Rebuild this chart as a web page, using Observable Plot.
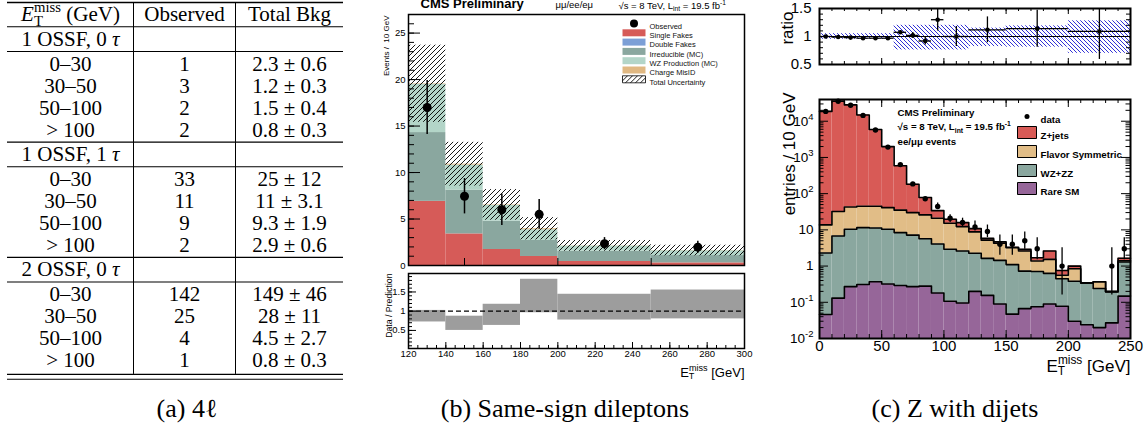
<!DOCTYPE html>
<html>
<head>
<meta charset="utf-8">
<script src="https://cdn.jsdelivr.net/npm/d3@7"></script>
<script src="https://cdn.jsdelivr.net/npm/@observablehq/plot@0.6"></script>
<style>
html,body{margin:0;padding:0;background:#fff;}
#root{position:relative;width:1148px;height:437px;overflow:hidden;background:#fff;color:#000;}
.panel{position:absolute;}
.panel svg{overflow:visible;display:block;}
.cap{position:absolute;font-family:"Liberation Serif","Times New Roman",serif;font-size:26px;line-height:1;white-space:nowrap;transform:translateX(-50%);}
</style>
</head>
<body>
<div id="root">
<svg width="0" height="0" style="position:absolute;left:0;top:0">
 <defs>
  <pattern id="hatchB" patternUnits="userSpaceOnUse" width="5" height="5">
   <path d="M-1,1 l2,-2 M0,5 l5,-5 M4,6 l2,-2" stroke="#000" stroke-width="0.9"/>
  </pattern>
  <pattern id="hatchC" patternUnits="userSpaceOnUse" width="4" height="4">
   <path d="M-1,3 l2,2 M0,0 l4,4 M3,-1 l2,2" stroke="#1a1ad0" stroke-width="0.9"/>
  </pattern>
 </defs>
</svg>
<div class="panel" id="pa" style="left:0;top:0"></div>
<div class="panel" id="pb" style="left:370px;top:0"></div>
<div class="panel" id="pbr" style="left:370px;top:268px"></div>
<div class="panel" id="pcr" style="left:760px;top:0"></div>
<div class="panel" id="pc" style="left:760px;top:80px"></div>
<div class="cap" style="left:187px;top:396px">(a) 4ℓ</div>
<div class="cap" style="left:565px;top:396px">(b) Same-sign dileptons</div>
<div class="cap" style="left:955px;top:396px">(c) Z with dijets</div>
</div>
<script>
// ================= DATA =================
// (a) 4-lepton table
const tableHeader = ["*{E}_{T}^{miss} (GeV)", "Observed", "Total Bkg"];
const tableGroups = ["1 OSSF, 0 *{τ}", "1 OSSF, 1 *{τ}", "2 OSSF, 0 *{τ}"];
const metRanges = ["0–30", "30–50", "50–100", "> 100"];
const observed4l = [[1, 3, 2, 2], [33, 11, 9, 2], [142, 25, 4, 1]];
const bkg4l = [[2.3, 1.2, 1.5, 0.8], [25, 11, 9.3, 2.9], [149, 28, 4.5, 0.8]];
const bkg4lErr = [[0.6, 0.3, 0.4, 0.3], [12, 3.1, 1.9, 0.6], [46, 11, 2.7, 0.3]];

// (b) same-sign dileptons (events / 10 GeV)
const ssEdges = [120, 140, 160, 180, 200, 250, 300];
const ssSingleFakes = [6.9, 3.4, 1.72, 0.97, 0.43, 0.28];
const ssDoubleFakes = [0, 0, 0, 0, 0, 0];
const ssIrreducible = [7.4, 4.7, 3.05, 1.73, 1.11, 0.79];
const ssWZ = [5.2, 2.7, 1.7, 1.15, 0.55, 0.52];
const ssChargeMisID = [0.05, 0.1, 0.05, 0.1, 0.02, 0.02];
const ssTotalUnc = [4.15, 2.35, 1.65, 1.2, 0.58, 0.57];
const ssObserved = [17.0, 7.45, 6.0, 5.5, 2.35, 1.97];
const ssObsErr = [2.9, 1.9, 1.7, 1.6, 0.65, 0.65];
const ssRatioLo = [0.72, 0.5, 0.63, 0.96, 0.77, 0.8];
const ssRatioHi = [1.02, 0.87, 1.18, 1.83, 1.44, 1.55];
const ssLegendLabels = ["Observed", "Single Fakes", "Double Fakes", "Irreducible (MC)", "WZ Production (MC)", "Charge MisID", "Total Uncertainty"];

// (c) Z with dijets (entries / 10 GeV)
const zjEdges = [0, 10, 20, 30, 40, 50, 60, 70, 80, 90, 100, 110, 120, 130, 140, 150, 160, 170, 180, 190, 200, 210, 220, 230, 240, 250];
const zjRareSM = [0.046, 0.13, 0.27, 0.31, 0.37, 0.32, 0.29, 0.27, 0.28, 0.18, 0.107, 0.096, 0.2, 0.155, 0.09, 0.047, 0.067, 0.075, 0.09, 0.078, 0.03, 0.024, 0.02, 0.027, 0.148];
const zjWZZZ = [2.25, 6.67, 10.1, 11.2, 10.9, 10.1, 8.1, 6.9, 5.4, 3.9, 2.8, 2.5, 2.05, 1.48, 1.35, 1.05, 0.66, 0.63, 0.54, 0.37, 0.35, 0.32, 0.22, 0.17, 1.15];
const zjFlavorSym = [11.4, 25.2, 32.6, 33.5, 33.7, 30.6, 26.6, 22.8, 20.3, 16.9, 12.3, 9.7, 6.55, 3.57, 2.86, 2.1, 1.87, 0.68, 0.9, 0.11, 0.46, 0, 0.13, 0, 0.1];
const zjZjets = [18690, 35970, 28160, 14860, 5860, 1950, 555, 152, 52, 13, 4.4, 3.6, 2.0, 0.6, 0.4, 0.1, 0.3, 0.32, 1.07, 0.2, 0.16, 0, 0, 0, 0.25];
const zjData = [18700, 35600, 27700, 14500, 5720, 1930, 635, 186, 72, 44, 21, 16, 12, 9, 4, 4, 5, 3, 0, 1, 0, 0, 0, 1, 3];
const zjDataLo = [null, null, null, null, null, null, null, null, null, 37, 16, 12, 9.3, 6.1, 2.0, 2.0, 2.9, 1.5, null, 0.16, null, null, null, 0.16, 1.5];
const zjDataHi = [null, null, null, null, null, null, null, null, null, 55, 26, 21, 17.5, 13.6, 7.2, 7.2, 8.7, 6.1, null, 3.2, null, null, null, 3.2, 6.1];
const zjRatioEdges = [0, 10, 20, 30, 40, 50, 60, 70, 80, 90, 100, 120, 150, 200, 250];
const zjRatio = [1.0, 0.99, 0.98, 0.97, 0.97, 0.97, 1.075, 1.02, 0.92, 1.3, 1.0, 1.12, 1.14, 1.09];
const zjRatioErr = [0.01, 0.01, 0.01, 0.01, 0.015, 0.02, 0.03, 0.05, 0.07, 0.2, 0.18, 0.23, 0.33, 0.5];
const zjBandEdges = [0, 60, 120, 150, 200, 250];
const zjBandLo = [0.95, 0.76, 0.82, 0.81, 0.7];
const zjBandHi = [1.05, 1.2, 1.15, 1.19, 1.28];
const zjLegendLabels = ["data", "Z+jets", "Flavor Symmetric", "WZ+ZZ", "Rare SM"];

// ================= HELPERS =================
const SANS = "Liberation Sans, Arial, Helvetica, sans-serif";
const SERIF = "Liberation Serif, Times New Roman, serif";
const NS = "http://www.w3.org/2000/svg";

function richText(el, s, fs) {
  while (el.firstChild) el.removeChild(el.firstChild);
  const re = /([_^*])\{([^}]*)\}|([^_^*{}]+)/g;
  let m, shift = 0, subW = 0, lastSub = false;
  while ((m = re.exec(s))) {
    const t = document.createElementNS(NS, "tspan");
    let target = 0;
    if (m[1] === "_") {
      target = 0.22 * fs; t.setAttribute("font-size", (0.7 * fs).toFixed(2));
      subW = m[2].length * 0.6 * 0.7 * fs;
    } else if (m[1] === "^") {
      target = -0.42 * fs; t.setAttribute("font-size", (0.7 * fs).toFixed(2));
      if (lastSub) t.setAttribute("dx", (-subW).toFixed(2));
    } else if (m[1] === "*") {
      t.setAttribute("font-style", "italic");
    }
    const d = target - shift;
    if (Math.abs(d) > 1e-6) t.setAttribute("dy", d.toFixed(2));
    shift = target;
    lastSub = m[1] === "_";
    t.textContent = m[1] ? m[2] : m[3];
    el.appendChild(t);
  }
}
function richify(svg) {
  svg.querySelectorAll("text").forEach(el => {
    const s = el.textContent;
    if (!/[_^*]\{/.test(s)) return;
    const f = el.closest("[font-size]");
    const fs = f ? parseFloat(f.getAttribute("font-size")) : 10;
    richText(el, s, fs);
  });
  return svg;
}
const tk = {stroke: "#000", strokeWidth: 1};
const ticksL = (v, len, fw) => Plot.tickY(v, {y: d => d, insetRight: fw - len, ...tk});
const ticksR = (v, len, fw) => Plot.tickY(v, {y: d => d, insetLeft: fw - len, ...tk});
const ticksB = (v, len, fh) => Plot.tickX(v, {x: d => d, insetTop: fh - len, ...tk});
const ticksT = (v, len, fh) => Plot.tickX(v, {x: d => d, insetBottom: fh - len, ...tk});
const rectSym = (w, h) => ({draw(ctx) { ctx.moveTo(-w/2, -h/2); ctx.lineTo(w/2, -h/2); ctx.lineTo(w/2, h/2); ctx.lineTo(-w/2, h/2); ctx.closePath(); }});
const styleSans = {fontFamily: SANS, fontSize: "10px", background: "transparent", overflow: "visible", color: "#000"};
const label = (s, o) => Plot.text([s], {text: d => d, ...o});
const plainFmt = d => String(d);

// ================= (a) TABLE =================
function panelA() {
  const colW = [126, 102, 108];
  const colX = colW.reduce((a, w) => (a.push(a[a.length - 1] + w), a), [0]);
  const colC = colW.map((w, i) => colX[i] + w / 2);
  const cells = [], rules = [];
  let prev = null;
  const addRow = (texts, ruled) => {
    const pos = prev === null ? 0 : prev + 1 + (ruled ? 0.12 : 0);
    if (prev !== null && ruled) rules.push((prev + pos) / 2);
    texts.forEach((t, c) => { if (t) cells.push({x: colC[c], y: pos, text: t}); });
    prev = pos;
  };
  addRow(tableHeader, false);
  tableGroups.forEach((g, gi) => {
    addRow([g, "", ""], true);
    metRanges.forEach((r, ri) => addRow([r, String(observed4l[gi][ri]), `${bkg4l[gi][ri]} ± ${bkg4lErr[gi][ri]}`], ri === 0));
  });
  const topRule = -0.545, bot1 = prev + 0.64, bot2 = prev + 0.86;
  return richify(Plot.plot({
    width: 350, height: 384, marginLeft: 7, marginRight: 7, marginTop: 0, marginBottom: 0,
    x: {domain: [0, colX[3]], axis: null},
    y: {domain: [-14 / 22, 370 / 22], reverse: true, axis: null},
    style: {...styleSans, fontFamily: SERIF},
    marks: [
      Plot.ruleY([topRule], {y: d => d, stroke: "#000", strokeWidth: 1.3}),
      Plot.ruleY(rules, {y: d => d, stroke: "#000", strokeWidth: 1.1}),
      Plot.ruleY([bot1, bot2], {y: d => d, stroke: "#000", strokeWidth: 1.1}),
      Plot.ruleX([colX[1], colX[2]], {x: d => d, y1: topRule, y2: bot1, stroke: "#000", strokeWidth: 1}),
      Plot.text(cells, {x: "x", y: "y", text: "text", fontSize: 21, fontFamily: SERIF, fill: "#000"})
    ]
  }));
}

// ================= (b) MAIN =================
function panelB() {
  const fw = 336, fh = 251;
  const layers = [
    {name: ssLegendLabels[1], values: ssSingleFakes, color: "#d65b58"},
    {name: ssLegendLabels[2], values: ssDoubleFakes, color: "#7c9fd6"},
    {name: ssLegendLabels[3], values: ssIrreducible, color: "#8aa79f"},
    {name: ssLegendLabels[4], values: ssWZ, color: "#b3d5c8"},
    {name: ssLegendLabels[5], values: ssChargeMisID, color: "#e0b882"}
  ];
  const cum = ssObserved.map(() => 0);
  const stack = [];
  for (const L of layers) L.values.forEach((v, i) => {
    stack.push({x1: ssEdges[i], x2: ssEdges[i + 1], y1: cum[i], y2: cum[i] + v, fill: L.color});
    cum[i] += v;
  });
  const unc = cum.map((t, i) => ({x1: ssEdges[i], x2: ssEdges[i + 1], y1: t - ssTotalUnc[i], y2: t + ssTotalUnc[i]}));
  const obs = ssObserved.map((v, i) => ({x: (ssEdges[i] + ssEdges[i + 1]) / 2, y: v, lo: v - ssObsErr[i], hi: v + ssObsErr[i]}));
  const items = [{label: ssLegendLabels[0], dot: true}, ...layers.map(L => ({label: L.name, fill: L.color})), {label: ssLegendLabels[6], fill: "url(#hatchB)", stroke: "#000"}];
  const legend = [];
  items.forEach((it, i) => {
    const dy = 9 + 9.3 * i;
    legend.push(it.dot
      ? Plot.dot([it], {frameAnchor: "top-right", dx: -110.5, dy, r: 4, fill: "#000"})
      : Plot.dot([it], {frameAnchor: "top-right", dx: -110.5, dy, r: 5, symbol: rectSym(23, 7), fill: it.fill, stroke: it.stroke || "none", strokeWidth: 0.8}));
    legend.push(label(it.label, {frameAnchor: "top-right", dx: -95, dy, textAnchor: "start", fontSize: 7.5, fill: "#111"}));
  });
  return richify(Plot.plot({
    width: 390, height: 272, marginLeft: 38, marginRight: 16, marginTop: 14, marginBottom: 7,
    x: {domain: [120, 300], axis: null},
    y: {domain: [0, 27]},
    color: {type: "identity"},
    style: styleSans,
    marks: [
      Plot.rect(stack, {x1: "x1", x2: "x2", y1: "y1", y2: "y2", fill: "fill"}),
      Plot.rect(unc, {x1: "x1", x2: "x2", y1: "y1", y2: "y2", fill: "url(#hatchB)"}),
      ticksL(d3.range(0, 28, 1), 6, fw),
      ticksL(d3.range(0, 30, 5), 12, fw),
      ticksB([150, 200, 250], 7, fh),
      Plot.ruleX(obs, {x: "x", y1: "lo", y2: "hi", stroke: "#000", strokeWidth: 1.5}),
      Plot.dot(obs, {x: "x", y: "y", r: 4.5, fill: "#000"}),
      Plot.axisY({ticks: d3.range(0, 30, 5), tickFormat: plainFmt, tickSize: 0, tickPadding: 3, fontSize: 9.5, label: null}),
      label("CMS Preliminary", {frameAnchor: "top-left", dx: 12, dy: -7, lineAnchor: "bottom", textAnchor: "start", fontWeight: "bold", fontSize: 13}),
      label("μμ/ee/eμ", {frameAnchor: "top-left", dx: 147, dy: -7, lineAnchor: "bottom", textAnchor: "start", fontSize: 9.5}),
      label("√s = 8 TeV, L_{int} = 19.5 fb^{-1}", {frameAnchor: "top-left", dx: 210, dy: -6, lineAnchor: "bottom", textAnchor: "start", fontSize: 9.5}),
      label("Events /  10 GeV", {frameAnchor: "top-left", dx: -25, dy: 1, rotate: -90, textAnchor: "end", fontSize: 8}),
      ...legend,
      Plot.frame({stroke: "#000", strokeWidth: 1.5})
    ]
  }));
}

// ================= (b) RATIO =================
function panelBR() {
  const fw = 336, fh = 75;
  const boxes = ssRatioLo.map((lo, i) => ({x1: ssEdges[i], x2: ssEdges[i + 1], y1: lo, y2: ssRatioHi[i]}));
  return richify(Plot.plot({
    width: 390, height: 117, marginLeft: 38, marginRight: 16, marginTop: 5, marginBottom: 37,
    x: {domain: [120, 300]},
    y: {domain: [0.03, 1.98]},
    style: styleSans,
    marks: [
      Plot.rect(boxes, {x1: "x1", x2: "x2", y1: "y1", y2: "y2", fill: "#9d9d9d"}),
      Plot.ruleY([1], {y: d => d, stroke: "#000", strokeWidth: 1.2, strokeDasharray: "5,3"}),
      ticksL(d3.range(1, 20).map(k => k / 10), 4, fw),
      ticksL([0.5, 1, 1.5], 8, fw),
      ticksB(d3.range(120, 301, 5), 3, fh),
      ticksB(d3.range(120, 301, 20), 6, fh),
      Plot.axisY({ticks: [0.5, 1, 1.5], tickFormat: plainFmt, tickSize: 0, tickPadding: 3, fontSize: 9.5, label: null}),
      Plot.axisX({ticks: d3.range(120, 301, 20), tickFormat: plainFmt, tickSize: 0, tickPadding: 2, fontSize: 9.5, label: null}),
      label("Data / Prediction", {frameAnchor: "top-left", dx: -23, dy: 0, rotate: -90, textAnchor: "end", fontSize: 8.7}),
      label("E_{T}^{miss} [GeV]", {frameAnchor: "bottom-right", dy: 28, textAnchor: "end", lineAnchor: "bottom", fontSize: 13}),
      Plot.frame({stroke: "#000", strokeWidth: 1.5})
    ]
  }));
}

// ================= (c) RATIO =================
function panelCR() {
  const fw = 311, fh = 56;
  const band = zjBandLo.map((lo, i) => ({x1: zjBandEdges[i], x2: zjBandEdges[i + 1], y1: lo, y2: zjBandHi[i]}));
  const pts = zjRatio.map((v, i) => ({x1: zjRatioEdges[i], x2: zjRatioEdges[i + 1], x: (zjRatioEdges[i] + zjRatioEdges[i + 1]) / 2, y: v, lo: v - zjRatioErr[i], hi: v + zjRatioErr[i]}));
  return richify(Plot.plot({
    width: 388, height: 78, marginLeft: 59, marginRight: 18, marginTop: 8, marginBottom: 14,
    x: {domain: [0, 250], axis: null},
    y: {domain: [0.5, 1.5]},
    style: styleSans,
    marks: [
      Plot.rect(band, {x1: "x1", x2: "x2", y1: "y1", y2: "y2", fill: "url(#hatchC)"}),
      Plot.ruleY([1], {y: d => d, stroke: "#000", strokeWidth: 1.2}),
      Plot.ruleY(pts, {y: "y", x1: "x1", x2: "x2", stroke: "#000", strokeWidth: 1.3}),
      Plot.ruleX(pts, {x: "x", y1: "lo", y2: "hi", stroke: "#000", strokeWidth: 1.3, clip: true}),
      Plot.dot(pts, {x: "x", y: "y", r: 2.3, fill: "#000"}),
      ticksL(d3.range(5, 16).map(k => k / 10), 4, fw),
      ticksR(d3.range(5, 16).map(k => k / 10), 4, fw),
      ticksL([0.5, 1, 1.5], 8, fw),
      ticksR([0.5, 1, 1.5], 8, fw),
      ticksB(d3.range(0, 251, 10), 3, fh),
      ticksB(d3.range(0, 251, 50), 6, fh),
      ticksT(d3.range(0, 251, 10), 3, fh),
      ticksT(d3.range(0, 251, 50), 6, fh),
      Plot.axisY({ticks: [0.5, 1, 1.5], tickFormat: plainFmt, tickSize: 0, tickPadding: 8, fontSize: 15, label: null}),
      label("ratio", {frameAnchor: "top-left", dx: -39, dy: 3, rotate: -90, textAnchor: "end", fontSize: 17}),
      Plot.frame({stroke: "#000", strokeWidth: 2})
    ]
  }));
}

// ================= (c) MAIN =================
function panelC() {
  const fw = 311, fh = 239;
  const yMin = 0.01, yMax = Math.pow(10, 4.6);
  const layers = [
    {name: zjLegendLabels[4], values: zjRareSM, color: "#966699"},
    {name: zjLegendLabels[3], values: zjWZZZ, color: "#8aa79f"},
    {name: zjLegendLabels[2], values: zjFlavorSym, color: "#e1bd87"},
    {name: zjLegendLabels[1], values: zjZjets, color: "#d85a56"}
  ];
  const n = zjRareSM.length;
  const cum = new Array(n).fill(0);
  const rects = [], steps = [];
  layers.forEach((L, li) => {
    L.values.forEach((v, i) => {
      const y1 = li === 0 ? yMin : cum[i];
      rects.push({x1: zjEdges[i], x2: zjEdges[i + 1], y1, y2: cum[i] + v, fill: L.color});
      cum[i] += v;
    });
    zjEdges.forEach((e, i) => steps.push({x: e, y: cum[Math.min(i, n - 1)], layer: L.name}));
  });
  const data = zjData.map((v, i) => ({x: (zjEdges[i] + zjEdges[i + 1]) / 2, y: v, lo: zjDataLo[i], hi: zjDataHi[i]}));
  const pts = data.filter(d => d.y > 0);
  const bars = data.filter(d => d.lo != null);
  const logMajor = d3.range(-2, 5).map(e => Math.pow(10, e));
  const logMinor = [];
  for (let e = -2; e <= 4; e++) for (let m = 2; m <= 9; m++) { const v = m * Math.pow(10, e); if (v < yMax) logMinor.push(v); }
  const legend = [];
  const legItems = [{label: zjLegendLabels[0], dot: true}, ...layers.slice().reverse().map(L => ({label: L.name, fill: L.color}))];
  const rowDy = [17, 33, 52, 71, 89];
  legItems.forEach((it, i) => {
    const dy = rowDy[i];
    legend.push(it.dot
      ? Plot.dot([it], {frameAnchor: "top-right", dx: -103.5, dy, r: 2.5, fill: "#000"})
      : Plot.dot([it], {frameAnchor: "top-right", dx: -103.5, dy, r: 5, symbol: rectSym(19, 12), fill: it.fill, stroke: "#000", strokeWidth: 1}));
    legend.push(label(it.label, {frameAnchor: "top-right", dx: -90, dy, textAnchor: "start", fontSize: 9.7, fontWeight: "bold"}));
  });
  return richify(Plot.plot({
    width: 388, height: 300, marginLeft: 59, marginRight: 18, marginTop: 19, marginBottom: 42,
    x: {domain: [0, 250]},
    y: {type: "log", domain: [yMin, yMax]},
    color: {type: "identity"},
    style: styleSans,
    marks: [
      Plot.rect(rects, {x1: "x1", x2: "x2", y1: "y1", y2: "y2", fill: "fill"}),
      Plot.line(steps, {x: "x", y: "y", z: "layer", curve: "step-after", stroke: "#000", strokeWidth: 1.6}),
      Plot.ruleX(bars, {x: "x", y1: "lo", y2: "hi", stroke: "#000", strokeWidth: 1.3}),
      Plot.dot(pts, {x: "x", y: "y", r: 2.7, fill: "#000"}),
      ticksL(logMinor, 4.5, fw), ticksR(logMinor, 4.5, fw),
      ticksL(logMajor, 9, fw), ticksR(logMajor, 9, fw),
      ticksB(d3.range(0, 251, 10), 4, fh), ticksB(d3.range(0, 251, 50), 8, fh),
      ticksT(d3.range(0, 251, 10), 4, fh), ticksT(d3.range(0, 251, 50), 8, fh),
      Plot.axisY({ticks: logMajor, tickFormat: d => { const e = Math.round(Math.log10(d)); return e === 0 ? "1" : e === 1 ? "10" : `10^{${e}}`; }, tickSize: 0, tickPadding: 6, fontSize: 13.5, label: null}),
      Plot.axisX({ticks: d3.range(0, 251, 50), tickFormat: plainFmt, tickSize: 0, tickPadding: 2, fontSize: 15, label: null}),
      label("entries / 10 GeV", {frameAnchor: "top-left", dx: -37, dy: -7, rotate: -90, textAnchor: "end", fontSize: 17}),
      label("E_{T}^{miss} [GeV]", {frameAnchor: "bottom-right", dy: 33, textAnchor: "end", lineAnchor: "bottom", fontSize: 17}),
      label("CMS Preliminary", {frameAnchor: "top-left", dx: 78, dy: 10, textAnchor: "start", fontSize: 9.7, fontWeight: "bold"}),
      label("√s = 8 TeV, L_{int} = 19.5 fb^{-1}", {frameAnchor: "top-left", dx: 78, dy: 24, textAnchor: "start", fontSize: 9.7, fontWeight: "bold"}),
      label("ee/μμ events", {frameAnchor: "top-left", dx: 78, dy: 39, textAnchor: "start", fontSize: 9.7, fontWeight: "bold"}),
      ...legend,
      Plot.frame({stroke: "#000", strokeWidth: 2})
    ]
  }));
}

document.getElementById("pa").append(panelA());
document.getElementById("pb").append(panelB());
document.getElementById("pbr").append(panelBR());
document.getElementById("pcr").append(panelCR());
document.getElementById("pc").append(panelC());
</script>
</body>
</html>
